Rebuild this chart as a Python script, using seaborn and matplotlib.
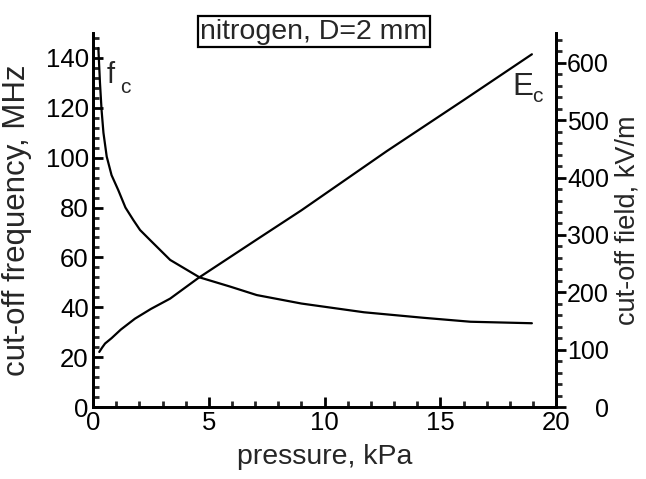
import matplotlib
matplotlib.use("Agg")
import matplotlib.pyplot as plt
import seaborn as sns
import pandas as pd
from matplotlib.ticker import MultipleLocator

sns.set_style("ticks")
plt.rcParams['font.family'] = ['Liberation Sans', 'DejaVu Sans']

# Data
fc_pressure = [0.23, 0.30, 0.37, 0.45, 0.59, 0.80, 1.09, 1.40, 1.74, 2.03, 2.46, 3.33, 4.60, 5.92, 7.07, 9.00, 11.70, 14.25, 16.30, 18.95]
fc_freq = [144.0, 130.0, 119.0, 110.0, 100.5, 93.0, 87.0, 80.0, 75.0, 71.0, 67.0, 59.0, 52.0, 48.3, 44.9, 41.5, 38.0, 35.8, 34.2, 33.6]

ec_pressure = [0.27, 0.40, 0.52, 0.80, 1.20, 1.81, 2.50, 3.33, 4.55, 7.07, 9.00, 12.68, 16.00, 18.95]
ec_field = [96.0, 104.0, 110.7, 120.0, 135.0, 154.0, 171.0, 189.0, 225.0, 292.0, 343.0, 446.0, 535.0, 615.0]

title_text = "nitrogen, D=2 mm"
xlabel = "pressure, kPa"
ylabel_left = "cut-off frequency, MHz"
ylabel_right = "cut-off field, kV/m"

df_fc = pd.DataFrame({"p": fc_pressure, "f": fc_freq})
df_ec = pd.DataFrame({"p": ec_pressure, "E": ec_field})

fig = plt.figure(figsize=(6.46, 4.79), dpi=100)
ax = fig.add_axes([0.144, 0.1503, 0.717, 0.7807])
ax2 = ax.twinx()

sns.lineplot(data=df_fc, x="p", y="f", ax=ax, color="black", lw=1.6, sort=False)
sns.lineplot(data=df_ec, x="p", y="E", ax=ax2, color="black", lw=1.6, sort=False)

ax.set_xlim(0, 20)
ax.set_ylim(0, 150)
ax2.set_ylim(0, 652)

fs_lab = 20.5
fs_ylab = 22.5
fs_ylab_r = 19.5
fs_tick = 18.5
ax.set_xlabel(xlabel, fontsize=fs_lab, labelpad=6)
ax.set_ylabel(ylabel_left, fontsize=fs_ylab)
ax2.set_ylabel(ylabel_right, fontsize=fs_ylab_r)
ax.yaxis.set_label_coords(-0.132, 0.5)
ax2.yaxis.set_label_coords(1.126, 0.5)

ax.xaxis.set_major_locator(MultipleLocator(5))
ax.xaxis.set_minor_locator(MultipleLocator(1))
ax.yaxis.set_major_locator(MultipleLocator(20))
ax.yaxis.set_minor_locator(MultipleLocator(4))
ax2.yaxis.set_major_locator(MultipleLocator(100))
ax2.yaxis.set_minor_locator(MultipleLocator(20))

for a in (ax, ax2):
    for s in a.spines.values():
        s.set_linewidth(2)
        s.set_color("black")
    a.spines['top'].set_visible(False)

ax.tick_params(axis='both', which='major', direction='in', length=7, width=2, labelsize=fs_tick, colors='black', pad=3)
ax.tick_params(axis='both', which='minor', direction='in', length=4, width=2)
ax2.tick_params(axis='y', which='major', direction='out', length=7, width=2, labelsize=18, colors='black', pad=31)
ax2.tick_params(axis='y', which='minor', direction='out', length=4, width=2)
for lab in ax2.get_yticklabels():
    lab.set_horizontalalignment('right')

ax.text(0.58, 130, "f", fontsize=21, ha='left', va='baseline')
ax.text(1.15, 126, "c", fontsize=15, ha='left', va='baseline')
ax2.text(18.1, 544, "E", fontsize=22.5, ha='left', va='baseline')
ax2.text(18.95, 532, "c", fontsize=15, ha='left', va='baseline')

fig.text(0.486, 0.934, title_text, fontsize=20.5, ha='center', va='center',
         bbox=dict(boxstyle='square,pad=0.1', facecolor='white', edgecolor='black', linewidth=1.6))

fig.savefig("out.png", dpi=100)
